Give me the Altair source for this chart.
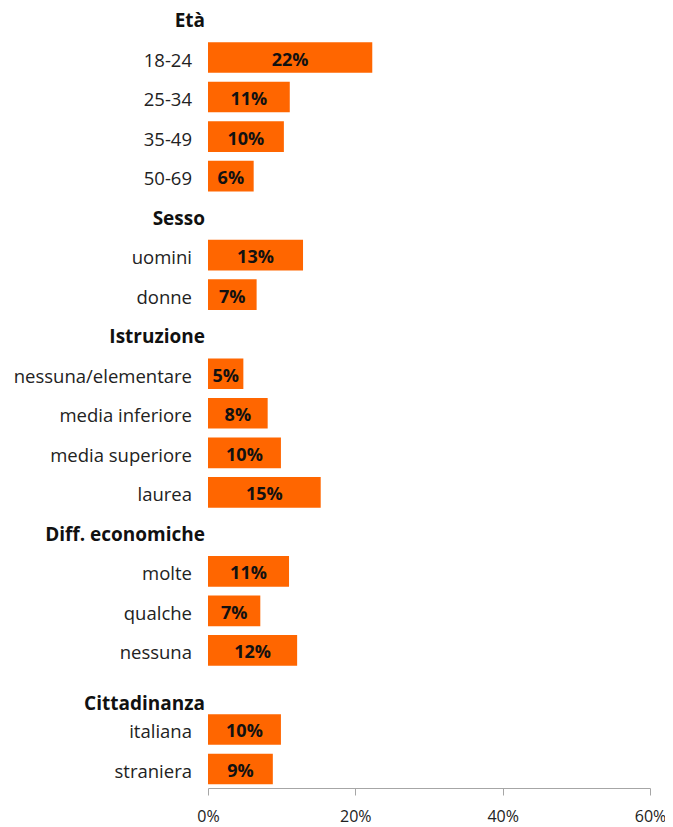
import altair as alt
import pandas as pd

groups = ["Età", "Sesso", "Istruzione", "Diff. economiche", "Cittadinanza"]
categories = [
    ["18-24", "25-34", "35-49", "50-69"],
    ["uomini", "donne"],
    ["nessuna/elementare", "media inferiore", "media superiore", "laurea"],
    ["molte", "qualche", "nessuna"],
    ["italiana", "straniera"],
]
values = [
    [22.3, 11.1, 10.3, 6.2],
    [12.9, 6.6],
    [4.8, 8.1, 9.9, 15.3],
    [11.0, 7.1, 12.1],
    [9.9, 8.8],
]
x_ticks = [0, 0.2, 0.4, 0.6]

records = []
order = []
for g, cats, vals in zip(groups, categories, values):
    records.append({"row": g, "kind": "header", "value": None})
    order.append(g)
    for c, v in zip(cats, vals):
        records.append({"row": c, "kind": "item", "value": v / 100})
        order.append(c)
df = pd.DataFrame(records)

FONT = "Open Sans"
ORANGE = "#FF6600"

y = alt.Y(
    "row:N",
    sort=order,
    axis=None,
    scale=alt.Scale(paddingInner=0.224, paddingOuter=0.092),
)
x_scale = alt.Scale(domain=[0, 0.6], nice=False)

base = alt.Chart(df)

bars = base.transform_filter("datum.kind == 'item'").mark_bar(
    color=ORANGE, cornerRadius=0
).encode(
    x=alt.X(
        "value:Q",
        scale=x_scale,
        axis=alt.Axis(
            values=x_ticks,
            format=".0%",
            grid=False,
            domainColor="#A6A6A6",
            tickColor="#A6A6A6",
            tickSize=7,
            labelFont=FONT,
            labelFontSize=16,
            labelColor="#222222",
            labelPadding=13,
            title=None,
            labelFlush=False,
        ),
    ),
    y=y,
)

value_text = base.transform_filter("datum.kind == 'item'").transform_calculate(
    mid="datum.value / 2"
).mark_text(
    font=FONT, fontSize=18, fontWeight="bold", color="#111111", dy=3
).encode(
    x=alt.X("mid:Q", scale=x_scale),
    y=y,
    text=alt.Text("value:Q", format=".0%"),
)

cat_text = base.transform_filter("datum.kind == 'item'").mark_text(
    font=FONT, fontSize=18.5, align="right", color="#222222", dy=3
).encode(
    x=alt.value(-16),
    y=y,
    text="row:N",
)

head_text = base.transform_filter(
    "datum.kind == 'header' && datum.row != 'Cittadinanza'"
).mark_text(
    font=FONT, fontSize=19, fontWeight="bold", align="right", color="#111111", dy=3
).encode(
    x=alt.value(-3),
    y=y,
    text="row:N",
)

head_last = base.transform_filter(
    "datum.kind == 'header' && datum.row == 'Cittadinanza'"
).mark_text(
    font=FONT, fontSize=19, fontWeight="bold", align="right", color="#111111", dy=14
).encode(
    x=alt.value(-3),
    y=y,
    text="row:N",
)

chart = alt.layer(bars, value_text, cat_text, head_text, head_last).properties(
    width=442,
    height=789,
    autosize=alt.AutoSizeParams(type="none"),
    padding={"left": 200, "top": -9, "right": 15, "bottom": 40},
).configure_view(stroke=None)

chart.save("out.html", embed_options={"renderer": "svg", "actions": False})
